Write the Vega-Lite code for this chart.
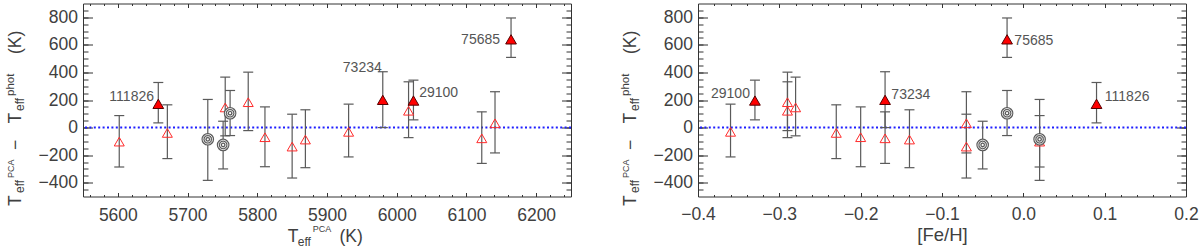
{
  "$schema": "https://vega.github.io/schema/vega-lite/v6.json",
  "background": "white",
  "padding": {"left": 4, "top": 2.5, "right": 0, "bottom": 0},
  "spacing": 127,
  "bounds": "flush",
  "config": {
    "view": {"stroke": null},
    "axis": {
      "grid": false,
      "labelFont": "Liberation Sans",
      "titleFont": "Liberation Sans",
      "titleFontWeight": "normal",
      "labelColor": "#404040",
      "titleColor": "#404040",
      "tickColor": "#333333",
      "domainColor": "#333333",
      "labelFontSize": 17.5,
      "titleFontSize": 17.5,
      "labelFlush": false,
      "labelOverlap": false,
      "tickWidth": 1,
      "domainWidth": 1
    }
  },
  "data": {"values": [
    {"teff": 5602, "feh": 0.02, "d": -102, "lo": -286, "hi": 87, "type": "open", "label": ""},
    {"teff": 5658, "feh": 0.09, "d": 172, "lo": 34, "hi": 327, "type": "filled", "label": "111826"},
    {"teff": 5671, "feh": -0.23, "d": -39, "lo": -225, "hi": 165, "type": "open", "label": ""},
    {"teff": 5729, "feh": 0.02, "d": -85, "lo": -383, "hi": 204, "type": "circle", "label": ""},
    {"teff": 5751, "feh": -0.05, "d": -126, "lo": -300, "hi": 46, "type": "circle", "label": ""},
    {"teff": 5754, "feh": -0.28, "d": 146, "lo": -60, "hi": 366, "type": "open", "label": ""},
    {"teff": 5761, "feh": -0.02, "d": 104, "lo": -58, "hi": 269, "type": "circle", "label": ""},
    {"teff": 5787, "feh": -0.29, "d": 184, "lo": -22, "hi": 402, "type": "open", "label": ""},
    {"teff": 5811, "feh": -0.20, "d": -70, "lo": -284, "hi": 150, "type": "open", "label": ""},
    {"teff": 5850, "feh": -0.07, "d": -138, "lo": -366, "hi": 97, "type": "open", "label": ""},
    {"teff": 5869, "feh": -0.14, "d": -87, "lo": -291, "hi": 129, "type": "open", "label": ""},
    {"teff": 5931, "feh": -0.36, "d": -31, "lo": -213, "hi": 170, "type": "open", "label": ""},
    {"teff": 5980, "feh": -0.17, "d": 201, "lo": 0, "hi": 405, "type": "filled", "label": "73234"},
    {"teff": 6017, "feh": -0.29, "d": 122, "lo": -73, "hi": 332, "type": "open", "label": ""},
    {"teff": 6024, "feh": -0.33, "d": 196, "lo": 56, "hi": 344, "type": "filled", "label": "29100"},
    {"teff": 6122, "feh": -0.17, "d": -78, "lo": -260, "hi": 114, "type": "open", "label": ""},
    {"teff": 6141, "feh": -0.07, "d": 31, "lo": -184, "hi": 260, "type": "open", "label": ""},
    {"teff": 6164, "feh": -0.02, "d": 640, "lo": 509, "hi": 795, "type": "filled", "label": "75685"}
  ]},
  "hconcat": [
    {
      "width": 488,
      "height": 193,
      "resolve": {"axis": {"x": "independent", "y": "independent"}},
      "layer": [
        {
          "data": {"values": [{}]},
          "mark": {"type": "rule", "color": "#1f1fff", "strokeWidth": 2, "strokeDash": [2, 2.4]},
          "encoding": {
            "y": {"datum": 0, "type": "quantitative", "scale": {"domain": [-500, 900], "nice": false, "zero": false},
              "axis": {"orient": "left", "values": [-400, -200, 0, 200, 400, 600, 800], "tickSize": -9.5, "labelPadding": 15, "domain": true,
                "title": "T", "titleX": -62.2, "titleY": 202, "titleAlign": "left", "titleBaseline": "alphabetic", "titleAngle": 270}}
          }
        },
        {
          "mark": {"type": "rule", "color": "#5a5a5a", "strokeWidth": 1.2},
          "encoding": {
            "x": {"field": "teff", "type": "quantitative", "scale": {"domain": [5550, 6250], "nice": false, "zero": false},
              "axis": {"orient": "bottom", "values": [5600, 5700, 5800, 5900, 6000, 6100, 6200], "format": "d", "tickSize": -4, "labelPadding": 14, "domain": true,
                "title": "T", "titleX": 204.3, "titleY": 44.5, "titleAlign": "left", "titleBaseline": "alphabetic", "titleAngle": 0}},
            "y": {"field": "lo", "type": "quantitative", "scale": {"domain": [-500, 900], "nice": false, "zero": false},
              "axis": {"orient": "left", "values": [-450, -400, -350, -300, -250, -200, -150, -100, -50, 0, 50, 100, 150, 200, 250, 300, 350, 400, 450, 500, 550, 600, 650, 700, 750, 800, 850], "tickSize": -5, "labels": false, "domain": false,
                "title": "eff", "titleFontSize": 12, "titleX": -59.7, "titleY": 189, "titleAlign": "left", "titleBaseline": "alphabetic", "titleAngle": 270}},
            "y2": {"field": "hi"}
          }
        },
        {
          "mark": {"type": "point", "shape": "M-1,0H1", "size": 100, "filled": false, "stroke": "#5a5a5a", "strokeWidth": 1.2, "opacity": 1},
          "encoding": {
            "x": {"field": "teff", "type": "quantitative", "scale": {"domain": [5550, 6250], "nice": false, "zero": false},
              "axis": {"orient": "top", "values": [5600, 5700, 5800, 5900, 6000, 6100, 6200], "tickSize": -4, "labels": false, "domain": true, "title": null}},
            "y": {"field": "hi", "type": "quantitative", "scale": {"domain": [-500, 900], "nice": false, "zero": false},
              "axis": {"orient": "right", "values": [-400, -200, 0, 200, 400, 600, 800], "tickSize": -9.5, "labels": false, "domain": true, "title": null}}
          }
        },
        {
          "mark": {"type": "point", "shape": "M-1,0H1", "size": 100, "filled": false, "stroke": "#5a5a5a", "strokeWidth": 1.2, "opacity": 1},
          "encoding": {
            "x": {"field": "teff", "type": "quantitative", "scale": {"domain": [5550, 6250], "nice": false, "zero": false},
              "axis": {"orient": "top", "values": [5560, 5580, 5600, 5620, 5640, 5660, 5680, 5700, 5720, 5740, 5760, 5780, 5800, 5820, 5840, 5860, 5880, 5900, 5920, 5940, 5960, 5980, 6000, 6020, 6040, 6060, 6080, 6100, 6120, 6140, 6160, 6180, 6200, 6220, 6240], "tickSize": -2, "labels": false, "domain": false, "title": null}},
            "y": {"field": "lo", "type": "quantitative", "scale": {"domain": [-500, 900], "nice": false, "zero": false},
              "axis": {"orient": "right", "values": [-450, -400, -350, -300, -250, -200, -150, -100, -50, 0, 50, 100, 150, 200, 250, 300, 350, 400, 450, 500, 550, 600, 650, 700, 750, 800, 850], "tickSize": -5, "labels": false, "domain": false, "title": null}}
          }
        },
        {
          "transform": [{"filter": "datum.type == 'open'"}],
          "mark": {"type": "point", "shape": "triangle-up", "size": 100, "filled": false, "stroke": "#ff2a2a", "strokeWidth": 1, "opacity": 1},
          "encoding": {
            "x": {"field": "teff", "type": "quantitative", "scale": {"domain": [5550, 6250], "nice": false, "zero": false},
              "axis": {"orient": "bottom", "values": [5560, 5580, 5600, 5620, 5640, 5660, 5680, 5700, 5720, 5740, 5760, 5780, 5800, 5820, 5840, 5860, 5880, 5900, 5920, 5940, 5960, 5980, 6000, 6020, 6040, 6060, 6080, 6100, 6120, 6140, 6160, 6180, 6200, 6220, 6240], "tickSize": -2, "labels": false, "domain": false, "title": null}},
            "y": {"field": "d", "type": "quantitative", "scale": {"domain": [-500, 900], "nice": false, "zero": false},
              "axis": {"orient": "left", "labels": false, "ticks": false, "domain": false,
                "title": "PCA", "titleFontSize": 9, "titleX": -69.2, "titleY": 174, "titleAlign": "left", "titleBaseline": "alphabetic", "titleAngle": 270}}
          }
        },
        {
          "transform": [{"filter": "datum.type == 'filled'"}],
          "mark": {"type": "point", "shape": "triangle-up", "size": 115, "filled": true, "fill": "#ff0000", "stroke": "#550000", "strokeWidth": 1, "opacity": 1},
          "encoding": {
            "x": {"field": "teff", "type": "quantitative", "scale": {"domain": [5550, 6250], "nice": false, "zero": false},
              "axis": {"orient": "bottom", "labels": false, "ticks": false, "domain": false,
                "title": "eff", "titleFontSize": 12, "titleX": 214.3, "titleY": 48.5, "titleAlign": "left", "titleBaseline": "alphabetic", "titleAngle": 0}},
            "y": {"field": "d", "type": "quantitative", "scale": {"domain": [-500, 900], "nice": false, "zero": false},
              "axis": {"orient": "left", "labels": false, "ticks": false, "domain": false,
                "title": "−", "titleX": -62.2, "titleY": 146, "titleAlign": "left", "titleBaseline": "alphabetic", "titleAngle": 270}}
          }
        },
        {
          "transform": [{"filter": "datum.type == 'circle'"}],
          "mark": {"type": "point", "shape": "circle", "size": 160, "filled": true, "fill": "#5a5a5a", "strokeWidth": 0, "opacity": 1},
          "encoding": {
            "x": {"field": "teff", "type": "quantitative", "scale": {"domain": [5550, 6250], "nice": false, "zero": false},
              "axis": {"orient": "bottom", "labels": false, "ticks": false, "domain": false,
                "title": "PCA", "titleFontSize": 9, "titleX": 229.3, "titleY": 35, "titleAlign": "left", "titleBaseline": "alphabetic", "titleAngle": 0}},
            "y": {"field": "d", "type": "quantitative", "scale": {"domain": [-500, 900], "nice": false, "zero": false},
              "axis": {"orient": "left", "labels": false, "ticks": false, "domain": false,
                "title": "T", "titleX": -62.2, "titleY": 119.5, "titleAlign": "left", "titleBaseline": "alphabetic", "titleAngle": 270}}
          }
        },
        {
          "transform": [{"filter": "datum.type == 'circle'"}],
          "mark": {"type": "point", "shape": "circle", "size": 90, "filled": false, "stroke": "#f2f2f2", "strokeWidth": 0.9, "opacity": 1},
          "encoding": {
            "x": {"field": "teff", "type": "quantitative", "scale": {"domain": [5550, 6250], "nice": false, "zero": false},
              "axis": {"orient": "bottom", "labels": false, "ticks": false, "domain": false,
                "title": "(K)", "titleX": 256, "titleY": 44.5, "titleAlign": "left", "titleBaseline": "alphabetic", "titleAngle": 0}},
            "y": {"field": "d", "type": "quantitative", "scale": {"domain": [-500, 900], "nice": false, "zero": false},
              "axis": {"orient": "left", "labels": false, "ticks": false, "domain": false,
                "title": "eff", "titleFontSize": 12, "titleX": -59.7, "titleY": 107, "titleAlign": "left", "titleBaseline": "alphabetic", "titleAngle": 270}}
          }
        },
        {
          "transform": [{"filter": "datum.type == 'circle'"}],
          "mark": {"type": "point", "shape": "circle", "size": 32, "filled": false, "stroke": "#f2f2f2", "strokeWidth": 0.9, "opacity": 1},
          "encoding": {
            "x": {"field": "teff", "type": "quantitative", "scale": {"domain": [5550, 6250], "nice": false, "zero": false}, "axis": null},
            "y": {"field": "d", "type": "quantitative", "scale": {"domain": [-500, 900], "nice": false, "zero": false},
              "axis": {"orient": "left", "labels": false, "ticks": false, "domain": false,
                "title": "phot", "titleFontSize": 11.5, "titleX": -69.2, "titleY": 92, "titleAlign": "left", "titleBaseline": "alphabetic", "titleAngle": 270}}
          }
        },
        {
          "transform": [{"filter": "datum.type == 'circle'"}],
          "mark": {"type": "point", "shape": "circle", "size": 5, "filled": true, "fill": "#ffffff", "strokeWidth": 0, "opacity": 1},
          "encoding": {
            "x": {"field": "teff", "type": "quantitative", "scale": {"domain": [5550, 6250], "nice": false, "zero": false}, "axis": null},
            "y": {"field": "d", "type": "quantitative", "scale": {"domain": [-500, 900], "nice": false, "zero": false}, "axis": null}
          }
        },
        {
          "transform": [{"filter": "datum.label == '111826'"}],
          "mark": {"type": "text", "align": "right", "baseline": "middle", "dx": -4.3, "dy": -7, "fontSize": 14, "font": "Liberation Sans", "color": "#555555"},
          "encoding": {
            "x": {"field": "teff", "type": "quantitative", "scale": {"domain": [5550, 6250], "nice": false, "zero": false}, "axis": null},
            "y": {"field": "d", "type": "quantitative", "scale": {"domain": [-500, 900], "nice": false, "zero": false},
              "axis": {"orient": "left", "labels": false, "ticks": false, "domain": false,
                "title": "(K)", "titleX": -62.2, "titleY": 50, "titleAlign": "left", "titleBaseline": "alphabetic", "titleAngle": 270}},
            "text": {"field": "label"}
          }
        },
        {
          "transform": [{"filter": "datum.label == '75685'"}],
          "mark": {"type": "text", "align": "right", "baseline": "middle", "dx": -11, "dy": 1, "fontSize": 14, "font": "Liberation Sans", "color": "#555555"},
          "encoding": {
            "x": {"field": "teff", "type": "quantitative", "scale": {"domain": [5550, 6250], "nice": false, "zero": false}, "axis": null},
            "y": {"field": "d", "type": "quantitative", "scale": {"domain": [-500, 900], "nice": false, "zero": false}, "axis": null},
            "text": {"field": "label"}
          }
        },
        {
          "transform": [{"filter": "datum.label == '73234'"}],
          "mark": {"type": "text", "align": "right", "baseline": "middle", "dx": -1, "dy": -31.6, "fontSize": 14, "font": "Liberation Sans", "color": "#555555"},
          "encoding": {
            "x": {"field": "teff", "type": "quantitative", "scale": {"domain": [5550, 6250], "nice": false, "zero": false}, "axis": null},
            "y": {"field": "d", "type": "quantitative", "scale": {"domain": [-500, 900], "nice": false, "zero": false}, "axis": null},
            "text": {"field": "label"}
          }
        },
        {
          "transform": [{"filter": "datum.label == '29100'"}],
          "mark": {"type": "text", "align": "left", "baseline": "middle", "dx": 5.7, "dy": -7.3, "fontSize": 14, "font": "Liberation Sans", "color": "#555555"},
          "encoding": {
            "x": {"field": "teff", "type": "quantitative", "scale": {"domain": [5550, 6250], "nice": false, "zero": false}, "axis": null},
            "y": {"field": "d", "type": "quantitative", "scale": {"domain": [-500, 900], "nice": false, "zero": false}, "axis": null},
            "text": {"field": "label"}
          }
        }
      ]
    },
    {
      "width": 488,
      "height": 193,
      "resolve": {"axis": {"x": "independent", "y": "independent"}},
      "layer": [
        {
          "data": {"values": [{}]},
          "mark": {"type": "rule", "color": "#1f1fff", "strokeWidth": 2, "strokeDash": [2, 2.4]},
          "encoding": {
            "y": {"datum": 0, "type": "quantitative", "scale": {"domain": [-500, 900], "nice": false, "zero": false},
              "axis": {"orient": "left", "values": [-400, -200, 0, 200, 400, 600, 800], "tickSize": -9.5, "labelPadding": 15, "domain": true,
                "title": "T", "titleX": -62.2, "titleY": 202, "titleAlign": "left", "titleBaseline": "alphabetic", "titleAngle": 270}}
          }
        },
        {
          "mark": {"type": "rule", "color": "#5a5a5a", "strokeWidth": 1.2},
          "encoding": {
            "x": {"field": "feh", "type": "quantitative", "scale": {"domain": [-0.4, 0.2], "nice": false, "zero": false},
              "axis": {"orient": "bottom", "values": [-0.4, -0.3, -0.2, -0.1, 0, 0.1, 0.2], "format": ".1f", "tickSize": -4, "labelPadding": 13, "domain": true,
                "title": "[Fe/H]", "titleFontSize": 18.5, "titleX": 244, "titleY": 43.5, "titleAlign": "center", "titleBaseline": "alphabetic", "titleAngle": 0}},
            "y": {"field": "lo", "type": "quantitative", "scale": {"domain": [-500, 900], "nice": false, "zero": false},
              "axis": {"orient": "left", "values": [-450, -400, -350, -300, -250, -200, -150, -100, -50, 0, 50, 100, 150, 200, 250, 300, 350, 400, 450, 500, 550, 600, 650, 700, 750, 800, 850], "tickSize": -5, "labels": false, "domain": false,
                "title": "eff", "titleFontSize": 12, "titleX": -59.7, "titleY": 189, "titleAlign": "left", "titleBaseline": "alphabetic", "titleAngle": 270}},
            "y2": {"field": "hi"}
          }
        },
        {
          "mark": {"type": "point", "shape": "M-1,0H1", "size": 100, "filled": false, "stroke": "#5a5a5a", "strokeWidth": 1.2, "opacity": 1},
          "encoding": {
            "x": {"field": "feh", "type": "quantitative", "scale": {"domain": [-0.4, 0.2], "nice": false, "zero": false},
              "axis": {"orient": "top", "values": [-0.4, -0.3, -0.2, -0.1, 0, 0.1, 0.2], "tickSize": -4, "labels": false, "domain": true, "title": null}},
            "y": {"field": "hi", "type": "quantitative", "scale": {"domain": [-500, 900], "nice": false, "zero": false},
              "axis": {"orient": "right", "values": [-400, -200, 0, 200, 400, 600, 800], "tickSize": -9.5, "labels": false, "domain": true, "title": null}}
          }
        },
        {
          "mark": {"type": "point", "shape": "M-1,0H1", "size": 100, "filled": false, "stroke": "#5a5a5a", "strokeWidth": 1.2, "opacity": 1},
          "encoding": {
            "x": {"field": "feh", "type": "quantitative", "scale": {"domain": [-0.4, 0.2], "nice": false, "zero": false},
              "axis": {"orient": "top", "values": [-0.38, -0.36, -0.34, -0.32, -0.3, -0.28, -0.26, -0.24, -0.22, -0.2, -0.18, -0.16, -0.14, -0.12, -0.1, -0.08, -0.06, -0.04, -0.02, 0, 0.02, 0.04, 0.06, 0.08, 0.1, 0.12, 0.14, 0.16, 0.18], "tickSize": -2, "labels": false, "domain": false, "title": null}},
            "y": {"field": "lo", "type": "quantitative", "scale": {"domain": [-500, 900], "nice": false, "zero": false},
              "axis": {"orient": "right", "values": [-450, -400, -350, -300, -250, -200, -150, -100, -50, 0, 50, 100, 150, 200, 250, 300, 350, 400, 450, 500, 550, 600, 650, 700, 750, 800, 850], "tickSize": -5, "labels": false, "domain": false, "title": null}}
          }
        },
        {
          "transform": [{"filter": "datum.type == 'open'"}],
          "mark": {"type": "point", "shape": "triangle-up", "size": 100, "filled": false, "stroke": "#ff2a2a", "strokeWidth": 1, "opacity": 1},
          "encoding": {
            "x": {"field": "feh", "type": "quantitative", "scale": {"domain": [-0.4, 0.2], "nice": false, "zero": false},
              "axis": {"orient": "bottom", "values": [-0.38, -0.36, -0.34, -0.32, -0.3, -0.28, -0.26, -0.24, -0.22, -0.2, -0.18, -0.16, -0.14, -0.12, -0.1, -0.08, -0.06, -0.04, -0.02, 0, 0.02, 0.04, 0.06, 0.08, 0.1, 0.12, 0.14, 0.16, 0.18], "tickSize": -2, "labels": false, "domain": false, "title": null}},
            "y": {"field": "d", "type": "quantitative", "scale": {"domain": [-500, 900], "nice": false, "zero": false},
              "axis": {"orient": "left", "labels": false, "ticks": false, "domain": false,
                "title": "PCA", "titleFontSize": 9, "titleX": -69.2, "titleY": 174, "titleAlign": "left", "titleBaseline": "alphabetic", "titleAngle": 270}}
          }
        },
        {
          "transform": [{"filter": "datum.type == 'filled'"}],
          "mark": {"type": "point", "shape": "triangle-up", "size": 115, "filled": true, "fill": "#ff0000", "stroke": "#550000", "strokeWidth": 1, "opacity": 1},
          "encoding": {
            "x": {"field": "feh", "type": "quantitative", "scale": {"domain": [-0.4, 0.2], "nice": false, "zero": false}, "axis": null},
            "y": {"field": "d", "type": "quantitative", "scale": {"domain": [-500, 900], "nice": false, "zero": false},
              "axis": {"orient": "left", "labels": false, "ticks": false, "domain": false,
                "title": "−", "titleX": -62.2, "titleY": 146, "titleAlign": "left", "titleBaseline": "alphabetic", "titleAngle": 270}}
          }
        },
        {
          "transform": [{"filter": "datum.type == 'circle'"}],
          "mark": {"type": "point", "shape": "circle", "size": 160, "filled": true, "fill": "#5a5a5a", "strokeWidth": 0, "opacity": 1},
          "encoding": {
            "x": {"field": "feh", "type": "quantitative", "scale": {"domain": [-0.4, 0.2], "nice": false, "zero": false}, "axis": null},
            "y": {"field": "d", "type": "quantitative", "scale": {"domain": [-500, 900], "nice": false, "zero": false},
              "axis": {"orient": "left", "labels": false, "ticks": false, "domain": false,
                "title": "T", "titleX": -62.2, "titleY": 119.5, "titleAlign": "left", "titleBaseline": "alphabetic", "titleAngle": 270}}
          }
        },
        {
          "transform": [{"filter": "datum.type == 'circle'"}],
          "mark": {"type": "point", "shape": "circle", "size": 90, "filled": false, "stroke": "#f2f2f2", "strokeWidth": 0.9, "opacity": 1},
          "encoding": {
            "x": {"field": "feh", "type": "quantitative", "scale": {"domain": [-0.4, 0.2], "nice": false, "zero": false}, "axis": null},
            "y": {"field": "d", "type": "quantitative", "scale": {"domain": [-500, 900], "nice": false, "zero": false},
              "axis": {"orient": "left", "labels": false, "ticks": false, "domain": false,
                "title": "eff", "titleFontSize": 12, "titleX": -59.7, "titleY": 107, "titleAlign": "left", "titleBaseline": "alphabetic", "titleAngle": 270}}
          }
        },
        {
          "transform": [{"filter": "datum.type == 'circle'"}],
          "mark": {"type": "point", "shape": "circle", "size": 32, "filled": false, "stroke": "#f2f2f2", "strokeWidth": 0.9, "opacity": 1},
          "encoding": {
            "x": {"field": "feh", "type": "quantitative", "scale": {"domain": [-0.4, 0.2], "nice": false, "zero": false}, "axis": null},
            "y": {"field": "d", "type": "quantitative", "scale": {"domain": [-500, 900], "nice": false, "zero": false},
              "axis": {"orient": "left", "labels": false, "ticks": false, "domain": false,
                "title": "phot", "titleFontSize": 11.5, "titleX": -69.2, "titleY": 92, "titleAlign": "left", "titleBaseline": "alphabetic", "titleAngle": 270}}
          }
        },
        {
          "transform": [{"filter": "datum.type == 'circle'"}],
          "mark": {"type": "point", "shape": "circle", "size": 5, "filled": true, "fill": "#ffffff", "strokeWidth": 0, "opacity": 1},
          "encoding": {
            "x": {"field": "feh", "type": "quantitative", "scale": {"domain": [-0.4, 0.2], "nice": false, "zero": false}, "axis": null},
            "y": {"field": "d", "type": "quantitative", "scale": {"domain": [-500, 900], "nice": false, "zero": false}, "axis": null}
          }
        },
        {
          "transform": [{"filter": "datum.label == '29100'"}],
          "mark": {"type": "text", "align": "right", "baseline": "middle", "dx": -5, "dy": -6.3, "fontSize": 14, "font": "Liberation Sans", "color": "#555555"},
          "encoding": {
            "x": {"field": "feh", "type": "quantitative", "scale": {"domain": [-0.4, 0.2], "nice": false, "zero": false}, "axis": null},
            "y": {"field": "d", "type": "quantitative", "scale": {"domain": [-500, 900], "nice": false, "zero": false},
              "axis": {"orient": "left", "labels": false, "ticks": false, "domain": false,
                "title": "(K)", "titleX": -62.2, "titleY": 50, "titleAlign": "left", "titleBaseline": "alphabetic", "titleAngle": 270}},
            "text": {"field": "label"}
          }
        },
        {
          "transform": [{"filter": "datum.label == '73234'"}],
          "mark": {"type": "text", "align": "left", "baseline": "middle", "dx": 6.3, "dy": -4.6, "fontSize": 14, "font": "Liberation Sans", "color": "#555555"},
          "encoding": {
            "x": {"field": "feh", "type": "quantitative", "scale": {"domain": [-0.4, 0.2], "nice": false, "zero": false}, "axis": null},
            "y": {"field": "d", "type": "quantitative", "scale": {"domain": [-500, 900], "nice": false, "zero": false}, "axis": null},
            "text": {"field": "label"}
          }
        },
        {
          "transform": [{"filter": "datum.label == '75685'"}],
          "mark": {"type": "text", "align": "left", "baseline": "middle", "dx": 7.3, "dy": 1.7, "fontSize": 14, "font": "Liberation Sans", "color": "#555555"},
          "encoding": {
            "x": {"field": "feh", "type": "quantitative", "scale": {"domain": [-0.4, 0.2], "nice": false, "zero": false}, "axis": null},
            "y": {"field": "d", "type": "quantitative", "scale": {"domain": [-500, 900], "nice": false, "zero": false}, "axis": null},
            "text": {"field": "label"}
          }
        },
        {
          "transform": [{"filter": "datum.label == '111826'"}],
          "mark": {"type": "text", "align": "left", "baseline": "middle", "dx": 8.3, "dy": -7.3, "fontSize": 14, "font": "Liberation Sans", "color": "#555555"},
          "encoding": {
            "x": {"field": "feh", "type": "quantitative", "scale": {"domain": [-0.4, 0.2], "nice": false, "zero": false}, "axis": null},
            "y": {"field": "d", "type": "quantitative", "scale": {"domain": [-500, 900], "nice": false, "zero": false}, "axis": null},
            "text": {"field": "label"}
          }
        }
      ]
    }
  ]
}
